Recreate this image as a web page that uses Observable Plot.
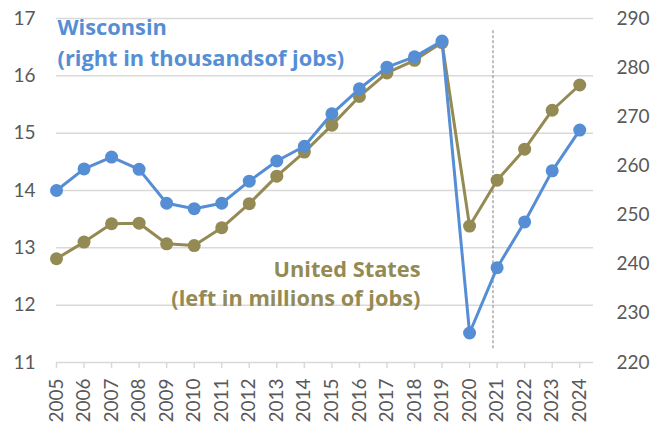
<!DOCTYPE html>
<html>
<head>
<meta charset="utf-8">
<script src="https://cdn.jsdelivr.net/npm/d3@7"></script>
<script src="https://cdn.jsdelivr.net/npm/@observablehq/plot@0.6"></script>
<style>
  html, body { margin: 0; padding: 0; background: #fff; }
  #chart svg { display: block; }
</style>
</head>
<body>
<div id="chart"></div>
<script>
const years = [2005,2006,2007,2008,2009,2010,2011,2012,2013,2014,2015,2016,2017,2018,2019,2020,2021,2022,2023,2024];
const usJobs = [12.81,13.10,13.42,13.43,13.07,13.04,13.35,13.77,14.25,14.67,15.14,15.64,16.05,16.27,16.58,13.38,14.18,14.72,15.40,15.84];
const wiJobs = [255.0,259.4,261.8,259.3,252.4,251.3,252.4,256.9,261.0,264.0,270.6,275.7,280.1,282.2,285.4,226.0,239.3,248.6,259.0,267.3];
const leftTicks = [11,12,13,14,15,16,17];
const rightTicks = [220,230,240,250,260,270,280,290];
const dashYear = 2020.85;
const dashSpan = [11.24, 16.79];
const wiLabel = ["Wisconsin", "(right in thousandsof jobs)"];
const usLabel = ["United States", "(left in millions of jobs)"];

const BLUE = "#558ed5";
const OLIVE = "#948a54";
const GRID = "#d9d9d9";
const TXT = "#595959";
const LABEL_FONT = "'Open Sans', 'Noto Sans', sans-serif";
const LABEL_SIZE = 21.8;

// map right-axis (thousands) onto left-axis (millions) domain
const toLeft = v => 11 + (v - 220) / 70 * 6;
const toRight = v => Math.round(220 + (v - 11) / 6 * 70);

const us = years.map((y, i) => ({year: y, value: usJobs[i]}));
const wi = years.map((y, i) => ({year: y, value: toLeft(wiJobs[i])}));

const label = (t, dx, dy, anchor, color) =>
  Plot.text([t], {frameAnchor: "top-left", lineAnchor: "middle", text: d => d, dx, dy, textAnchor: anchor,
    fill: color, fontSize: LABEL_SIZE, fontWeight: 700, fontFamily: LABEL_FONT});

const chart = Plot.plot({
  width: 667,
  height: 422,
  marginLeft: 56,
  marginRight: 74,
  marginTop: 18,
  marginBottom: 60,
  style: {fontFamily: "Lato, 'Open Sans', sans-serif", background: "#fff"},
  x: {type: "linear", domain: [2005, 2024.5]},
  y: {domain: [11, 17]},
  marks: [
    Plot.ruleY(leftTicks, {y: d => d, stroke: GRID, strokeWidth: 1.5}),
    Plot.axisY({ticks: leftTicks, tickFormat: d => String(d), tickSize: 0, tickPadding: 21, fontSize: 19, fill: TXT, label: null}),
    Plot.axisY(rightTicks.map(toLeft), {anchor: "right", tickSize: 0, tickPadding: 23, fontSize: 19, fill: TXT, tickFormat: toRight, label: null}),
    Plot.axisX({ticks: years, tickFormat: d => String(d), tickRotate: -90, tickSize: 6, tickPadding: 10, stroke: GRID, strokeWidth: 1.5, fill: TXT, fontSize: 19, label: null}),
    Plot.ruleX([dashYear], {x: d => d, y1: dashSpan[0], y2: dashSpan[1], stroke: "#808080", strokeWidth: 1, strokeDasharray: "3,2"}),
    Plot.line(us, {x: "year", y: "value", stroke: OLIVE, strokeWidth: 3}),
    Plot.dot(us, {x: "year", y: "value", fill: OLIVE, r: 6.5}),
    Plot.line(wi, {x: "year", y: "value", stroke: BLUE, strokeWidth: 3}),
    Plot.dot(wi, {x: "year", y: "value", fill: BLUE, r: 6.5}),
    label(wiLabel[0], 1, 10, "start", BLUE),
    label(wiLabel[1], 1, 41, "start", BLUE),
    label(usLabel[0], 364, 252, "end", OLIVE),
    label(usLabel[1], 364, 281, "end", OLIVE)
  ]
});
document.getElementById("chart").appendChild(chart);
</script>
</body>
</html>
